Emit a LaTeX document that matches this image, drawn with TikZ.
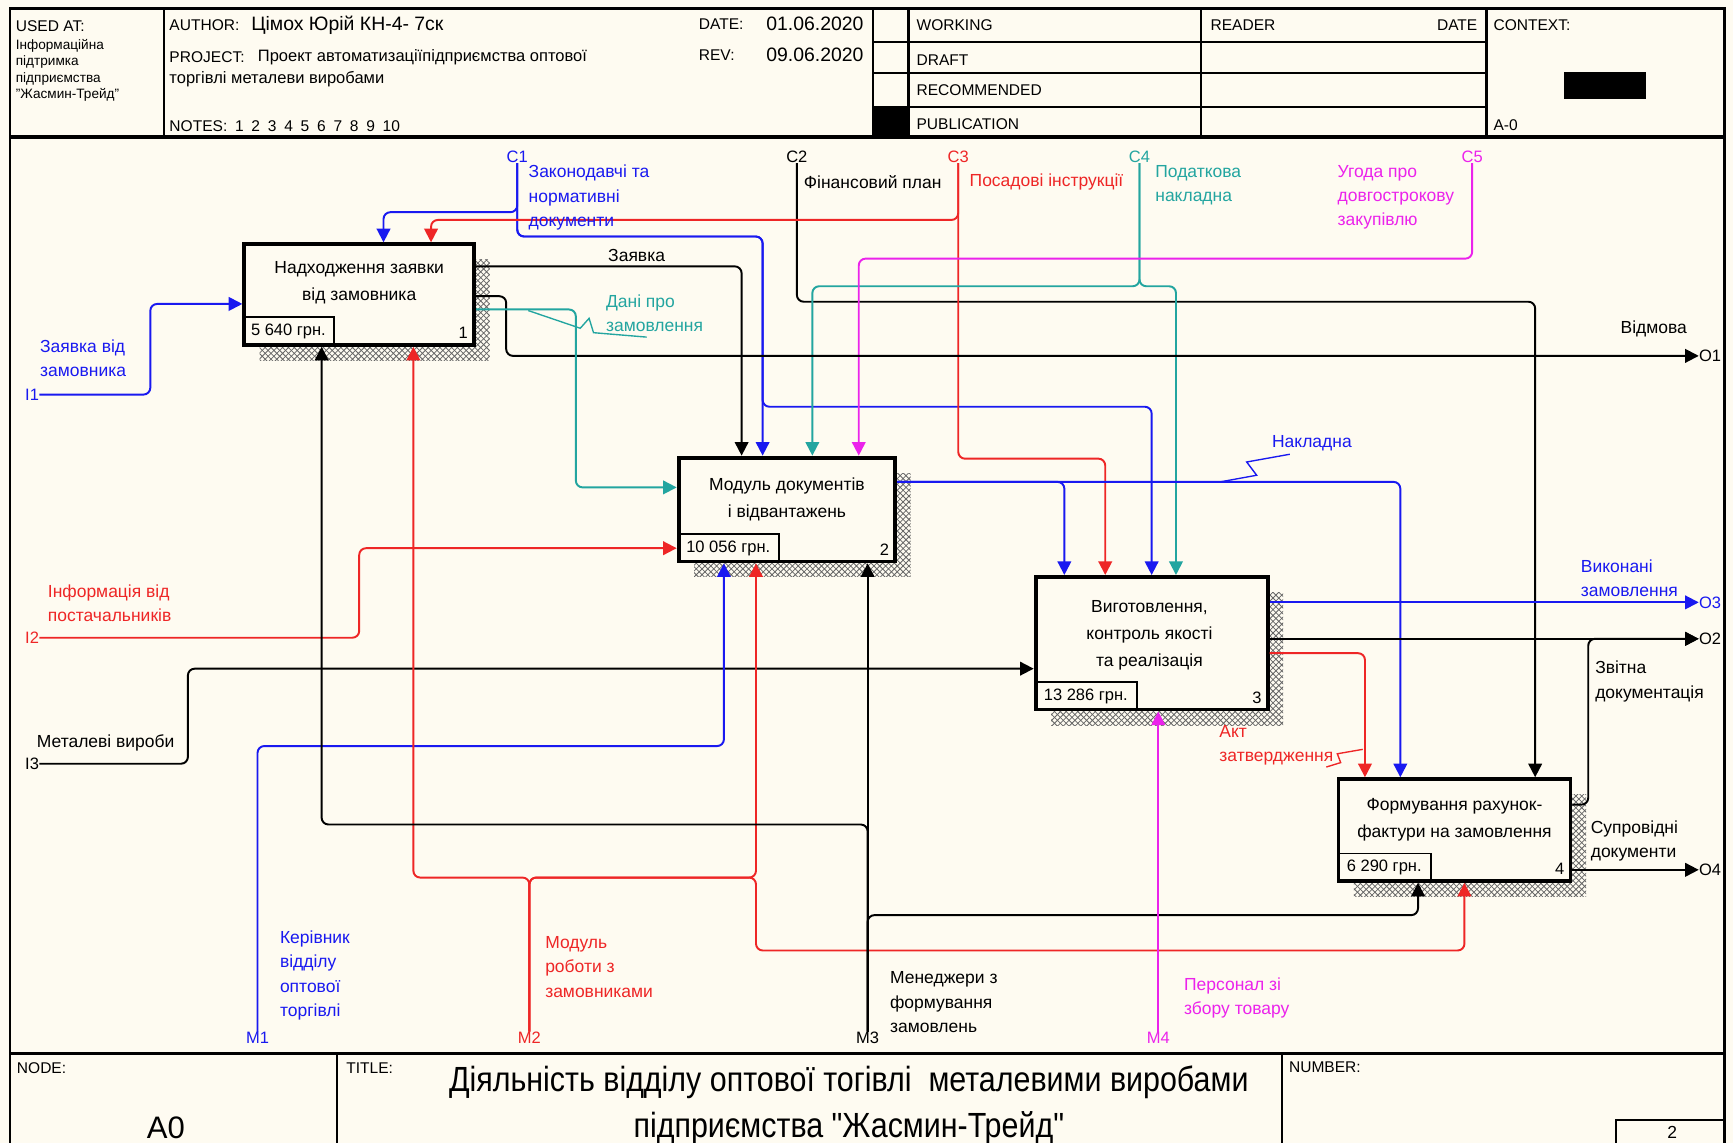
\documentclass[tikz,border=0pt]{standalone}
\usepackage{fontspec}
\setmainfont{Liberation Sans}
\newfontfamily\narrowfont[FakeStretch=0.87]{Liberation Sans}
\usepackage{tikz}
\usetikzlibrary{arrows.meta, positioning, patterns}
\definecolor{paper}{RGB}{254,251,241}
\definecolor{iblue}{RGB}{25,25,240}
\definecolor{ired}{RGB}{238,38,38}
\definecolor{iteal}{RGB}{35,165,160}
\definecolor{ipink}{RGB}{235,35,235}
\tikzset{
frame/.style={line width=1.1pt}, % sheet border and header grid
hdr/.style={font=\fontsize{8}{9}\selectfont, anchor=west, inner sep=0pt}, % header captions
func/.style={draw, line width=2pt, fill=paper, inner sep=0pt}, % activity box
shade/.style={pattern=crosshatch, pattern color=black!60}, % hatched shadow of a box
cost/.style={draw, line width=0.8pt, anchor=south west, inner sep=0pt, minimum height=0.52cm, font=\fontsize{8.5}{10}\selectfont}, % cost corner
ftext/.style={font=\fontsize{9}{14}\selectfont, align=center}, % activity name
arr/.style={line width=1pt, rounded corners=3.5pt, -{Triangle[length=7pt,width=7pt]}}, % IDEF0 arrow
lbl/.style={font=\fontsize{9}{12.5}\selectfont, align=left, inner sep=0pt, anchor=north west}, % arrow label
icom/.style={font=\fontsize{8.5}{10}\selectfont, inner sep=0pt}, % ICOM code
squig/.style={line width=0.7pt}, % squiggle from label to arrow
}

\begin{document}
\begin{tikzpicture}[x=0.02cm, y=-0.02cm]
    \useasboundingbox[fill=paper] (0,0) rectangle (1568,1034);

    % sheet frame
    \draw[frame, line width=1.4pt] (9,8) rectangle (1560,1040);
    \draw[frame, line width=1.6pt] (9,124) -- (1560,124);
    \draw[frame] (148,8) -- (148,124) (790,8) -- (790,124) (822,8) -- (822,124)
                 (1087,8) -- (1087,124) (1345,8) -- (1345,124);
    \draw[frame] (790,38) -- (1345,38) (790,66) -- (1345,66) (790,97) -- (1345,97);
    \fill (790,97) rectangle (822,124);
    \fill (1415,65) rectangle (1489,90);
    \draw[frame, line width=1.6pt] (9,953) -- (1560,953);
    \draw[frame] (305,953) -- (305,1040) (1160,953) -- (1160,1040);
    \draw[frame] (1462,1040) |- (1560,1013);

    % header
    \node[hdr] (used) at (14,24) {USED AT:};
    \node[hdr, anchor=north west, align=left, font=\fontsize{7}{8.5}\selectfont] (usedtxt) at (14,35) {Інформаційна\\підтримка\\підприємства\\"Жасмин-Трейд"};
    \node[hdr] (auth) at (153,23) {AUTHOR:};
    \node[hdr, font=\fontsize{10}{12}\selectfont] (authname) at (227,23) {Цімох Юрій КН-4- 7ск};
    \node[hdr] (proj) at (153,52) {PROJECT:};
    \node[hdr, font=\fontsize{8.5}{10}\selectfont] (projtxt) at (233,52) {Проект автоматизаціїпідприємства оптової};
    \node[hdr, font=\fontsize{8.5}{10}\selectfont] (projtxt2) at (153,72) {торгівлі металеви виробами};
    \node[hdr] (notes) at (153,114) {NOTES:\enspace 1\enspace 2\enspace 3\enspace 4\enspace 5\enspace 6\enspace 7\enspace 8\enspace 9\enspace 10};
    \node[hdr] (date) at (632,22) {DATE:};
    \node[hdr, font=\fontsize{10}{12}\selectfont] (dateval) at (693,22) {01.06.2020};
    \node[hdr] (rev) at (632,50) {REV:};
    \node[hdr, font=\fontsize{10}{12}\selectfont] (revval) at (693,50) {09.06.2020};
    \node[hdr] (working) at (829,23) {WORKING};
    \node[hdr] (draft) at (829,54) {DRAFT};
    \node[hdr] (recom) at (829,82) {RECOMMENDED};
    \node[hdr] (publ) at (829,112) {PUBLICATION};
    \node[hdr] (reader) at (1095,23) {READER};
    \node[hdr, anchor=east] (rdate) at (1337,23) {DATE};
    \node[hdr] (context) at (1351,23) {CONTEXT:};
    \node[hdr] (ctxnode) at (1351,113) {A-0};

    % footer
    \node[hdr] (nodecap) at (15,966) {NODE:};
    \node[font=\fontsize{16}{19}\selectfont] (nodeid) at (150,1020) {A0};
    \node[hdr] (titlecap) at (313,966) {TITLE:};
    \node[align=center, font=\narrowfont\fontsize{18}{24}\selectfont] (title) at (768,1000)
        {Діяльність відділу оптової тогівлі\ \ металевими виробами\\підприємства "Жасмин-Трейд"};
    \node[hdr] (numcap) at (1166,966) {NUMBER:};
    \node[font=\fontsize{9}{10}\selectfont] (pagenum) at (1513,1025) {2};

    % shadows
    \path[shade] (235,235) rectangle (443,326);
    \path[shade] (628,428) rectangle (824,522);
    \path[shade] (951,536) rectangle (1161,656);
    \path[shade] (1225,719) rectangle (1435,811);

    % activities
    \node[func, minimum width=4.16cm, minimum height=1.82cm] (b1) at (325,266.5) {};
    \node[func, minimum width=3.92cm, minimum height=1.88cm] (b2) at (712,461) {};
    \node[func, minimum width=4.2cm, minimum height=2.4cm] (b3) at (1042,582) {};
    \node[func, minimum width=4.2cm, minimum height=1.84cm] (b4) at (1316,751) {};

    \node[ftext] (t1) at (325,256) {Надходження заявки\\від замовника};
    \node[ftext] (t2) at (712,452) {Модуль документів\\і відвантажень};
    \node[ftext] (t3) at (1040,575) {Виготовлення,\\контроль якості\\та реалізація};
    \node[ftext] (t4) at (1316,742) {Формування рахунок-\\фактури на замовлення};

    \node[cost, minimum width=1.64cm] (k1) at (b1.south west) {5 640 грн.};
    \node[cost, minimum width=1.84cm] (k2) at (b2.south west) {10 056 грн.};
    \node[cost, minimum width=1.86cm] (k3) at (b3.south west) {13 286 грн.};
    \node[cost, minimum width=1.7cm] (k4) at (b4.south west) {6 290 грн.};

    \node[icom, anchor=south east, inner sep=4pt] (n1) at (b1.south east) {1};
    \node[icom, anchor=south east, inner sep=4pt] (n2) at (b2.south east) {2};
    \node[icom, anchor=south east, inner sep=4pt] (n3) at (b3.south east) {3};
    \node[icom, anchor=south east, inner sep=4pt] (n4) at (b4.south east) {4};

    % ICOM codes
    \node[icom, iblue] (c1) at (468,142) {C1};
    \node[icom] (c2) at (721,142) {C2};
    \node[icom, ired] (c3) at (867,142) {C3};
    \node[icom, iteal] (c4) at (1031,142) {C4};
    \node[icom, ipink] (c5) at (1332,142) {C5};
    \node[icom, iblue] (i1) at (29,357) {I1};
    \node[icom, ired] (i2) at (29,577) {I2};
    \node[icom] (i3) at (29,691) {I3};
    \node[icom, anchor=west] (o1) at (1537,322) {O1};
    \node[icom, anchor=west] (o2) at (1537,578) {O2};
    \node[icom, anchor=west, iblue] (o3) at (1537,545) {O3};
    \node[icom, anchor=west] (o4) at (1537,787) {O4};
    \node[icom, iblue] (m1) at (233,939) {M1};
    \node[icom, ired] (m2) at (479,939) {M2};
    \node[icom] (m3) at (785,939) {M3};
    \node[icom, ipink] (m4) at (1048,939) {M4};

    % controls
    \draw[arr, iblue] (c1.south) -- (468,192) -- (347,192) -- (347,0 |- b1.north);
    \draw[arr, iblue] (c1.south) -- (468,214) -- (690,214) -- (690,0 |- b2.north);
    \draw[arr, iblue] (c1.south) -- (468,214) -- (690,214) -- (690,368) -- (1042,368) -- (1042,0 |- b3.north);
    \draw[arr] (c2.south) -- (721,273) -- (1389,273) -- (1389,0 |- b4.north);
    \draw[arr, ired] (c3.south) -- (867,199) -- (390,199) -- (390,0 |- b1.north);
    \draw[arr, ired] (c3.south) -- (867,415) -- (1000,415) -- (1000,0 |- b3.north);
    \draw[arr, iteal] (c4.south) -- (1031,259) -- (735,259) -- (735,0 |- b2.north);
    \draw[arr, iteal] (c4.south) -- (1031,259) -- (1064,259) -- (1064,0 |- b3.north);
    \draw[arr, ipink] (c5.south) -- (1332,234) -- (777,234) -- (777,0 |- b2.north);

    % inputs
    \draw[arr, iblue] (i1.east) -- (136,357) -- (136,275) -- (b1.west |- 0,275);
    \draw[arr, ired] (i2.east) -- (325,577) -- (325,496) -- (b2.west |- 0,496);
    \draw[arr] (i3.east) -- (170,691) -- (170,605) -- (b3.west |- 0,605);

    % outputs
    \draw[arr] (b1.east |- 0,241) -- (671,241) -- (671,0 |- b2.north);
    \draw[arr] (b1.east |- 0,268) -- (458,268) -- (458,322) -- (o1.west);
    \draw[arr, iteal] (b1.east |- 0,280) -- (521,280) -- (521,441) -- (b2.west |- 0,441);
    \draw[arr, iblue] (b2.east |- 0,436) -- (963,436) -- (963,0 |- b3.north);
    \draw[arr, iblue] (b2.east |- 0,436) -- (1267,436) -- (1267,0 |- b4.north);
    \draw[arr, iblue] (b3.east |- 0,545) -- (o3.west);
    \draw[arr] (b3.east |- 0,578) -- (o2.west);
    \draw[arr, ired] (b3.east |- 0,591) -- (1235,591) -- (1235,0 |- b4.north);
    \draw[arr] (b4.east |- 0,728) -- (1437,728) -- (1437,578) -- (o2.west);
    \draw[arr] (b4.east |- 0,787) -- (o4.west);

    % mechanisms
    \draw[arr, iblue] (m1.north) -- (233,675) -- (655,675) -- (655,0 |- b2.south);
    \draw[arr, ired] (m2.north) -- (479,794) -- (374,794) -- (374,0 |- b1.south);
    \draw[arr, ired] (m2.north) -- (479,794) -- (684,794) -- (684,0 |- b2.south);
    \draw[arr, ired] (m2.north) -- (479,794) -- (684,794) -- (684,860) -- (1325,860) -- (1325,0 |- b4.south);
    \draw[arr] (m3.north) -- (785,0 |- b2.south);
    \draw[arr] (m3.north) -- (785,746) -- (291,746) -- (291,0 |- b1.south);
    \draw[arr] (m3.north) -- (785,828) -- (1283,828) -- (1283,0 |- b4.south);
    \draw[arr, ipink] (m4.north) -- (1048,0 |- b3.south);

    % arrow labels
    \node[lbl, iblue] (lc1) at (478,149) {Законодавчі та\\нормативні\\документи};
    \node[lbl, anchor=west] (lc2) at (727,165) {Фінансовий план};
    \node[lbl, ired, anchor=west] (lc3) at (877,165) {Посадові інструкції};
    \node[lbl, iteal] (lc4) at (1045,149) {Податкова\\накладна};
    \node[lbl, ipink] (lc5) at (1210,149) {Угода про\\довгострокову\\закупівлю};
    \node[lbl, iblue] (li1) at (36,307) {Заявка від\\замовника};
    \node[lbl, ired] (li2) at (43,529) {Інформація від\\постачальників};
    \node[lbl, anchor=west] (li3) at (33,672) {Металеві вироби};
    \node[lbl, anchor=center] (lz) at (576,231) {Заявка};
    \node[lbl, iteal] (ld) at (548,266) {Дані про\\замовлення};
    \node[lbl, anchor=west] (lo1) at (1466,298) {Відмова};
    \node[lbl, iblue, anchor=center] (ln) at (1187,401) {Накладна};
    \node[lbl, iblue] (lo3) at (1430,506) {Виконані\\замовлення};
    \node[lbl] (lzv) at (1443,598) {Звітна\\документація};
    \node[lbl, ired] (la) at (1103,656) {Акт\\затвердження};
    \node[lbl] (lo4) at (1439,742) {Супровідні\\документи};
    \node[lbl, iblue] (lm1) at (253,842) {Керівник\\відділу\\оптової\\торгівлі};
    \node[lbl, ired] (lm2) at (493,847) {Модуль\\роботи з\\замовниками};
    \node[lbl] (lm3) at (805,879) {Менеджери з\\формування\\замовлень};
    \node[lbl, ipink] (lm4) at (1071,884) {Персонал зі\\збору товару};

    % squiggles
    \draw[squig, iteal] (478,281) -- (525,297) -- (533,288) -- (537,301) -- (585,305);
    \draw[squig, iblue] (1104,436) -- (1137,430) -- (1128,418) -- (1167,411);
    \draw[squig, ired] (1200,694) -- (1213,690) -- (1210,682) -- (1233,678);
\end{tikzpicture}
\end{document}
